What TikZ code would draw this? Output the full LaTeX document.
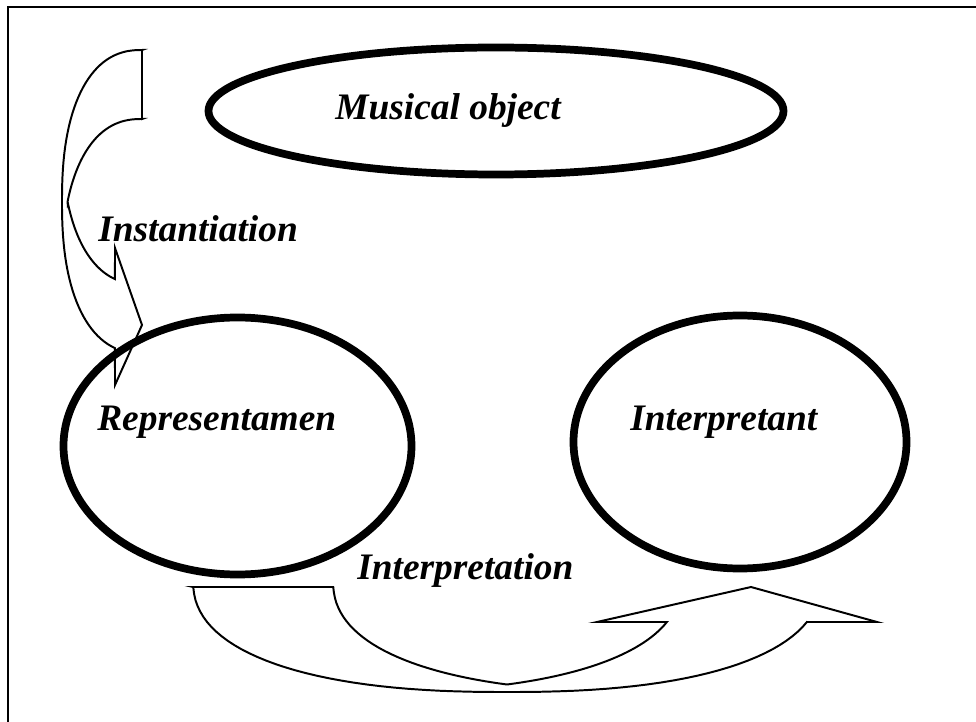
\documentclass[tikz,border=0pt]{standalone}
\usepackage{fontspec}
\setmainfont{Liberation Serif}
\usetikzlibrary{shapes.geometric}
\begin{document}
\begin{tikzpicture}[x=0.25mm,y=-0.25mm,
  declare function={spw(\a)=(\a<0?-1:1)*pow(abs(\a)+0.0001,0.85);},
  blockarrow/.style={draw=black,fill=white,line width=1.4pt,line join=miter},
  oval/.style={draw=black,line width=5.5pt,ellipse,inner sep=0pt},
  lbl/.style={font=\fontsize{26.6}{30}\selectfont\bfseries\itshape,inner sep=0pt,anchor=base west}]
\useasboundingbox (0,0) rectangle (976,722);
\clip (0,0) rectangle (976,722);
\fill[white] (0,0) rectangle (976,722);
% outer frame (runs off the right and bottom edges)
\draw[line width=1.4pt] (8,7) rectangle (990,740);

% curved block arrow on the left, from the top down into Representamen
\path[blockarrow] (142,50) -- (142,119)
  -- plot[domain=270:203.3,samples=30,variable=\t] ({142+80*spw(cos(\t))},{270.6+151.6*spw(sin(\t))})
  -- plot[domain=156.7:106.2,samples=30,variable=\t] ({142+80*spw(cos(\t))},{132.6+151.6*spw(sin(\t))})
  -- (115,248) -- (142,325) -- (115,385)
  -- plot[domain=106.2:270,samples=60,variable=\t] ({142+80*spw(cos(\t))},{201.6+151.6*spw(sin(\t))})
  -- cycle;

% curved block arrow at the bottom, from Representamen up to Interpretant
\path[blockarrow] (193,587) -- (333,587)
  -- plot[domain=177.45:112.8,samples=30,variable=\t] ({647+314*spw(cos(\t))},{579+113*spw(sin(\t))})
  -- plot[domain=67.2:18.7,samples=30,variable=\t] ({367+314*spw(cos(\t))},{579+113*spw(sin(\t))})
  -- (597,622) -- (751,587) -- (877,622) -- (807,622)
  -- plot[domain=18.7:177.45,samples=60,variable=\t] ({507+314*spw(cos(\t))},{579+113*spw(sin(\t))})
  -- cycle;

% the three ovals
\node[oval,minimum width=143.75mm,minimum height=31.75mm] (musobj) at (496,111) {};
\node[oval,minimum width=87mm,minimum height=64.25mm] (repr) at (237.5,446) {};
\node[oval,minimum width=83.25mm,minimum height=63.25mm] (interp) at (740,442) {};

% labels
\node[lbl] (tmus) at (335,120) {Musical object};
\node[lbl] (tinst) at (98,242) {Instantiation};
\node[lbl] (trepr) at (97,430) {Representamen};
\node[lbl] (tinterp) at (630,430) {Interpretant};
\node[lbl] (tinterpr) at (357,579) {Interpretation};
\end{tikzpicture}
\end{document}
